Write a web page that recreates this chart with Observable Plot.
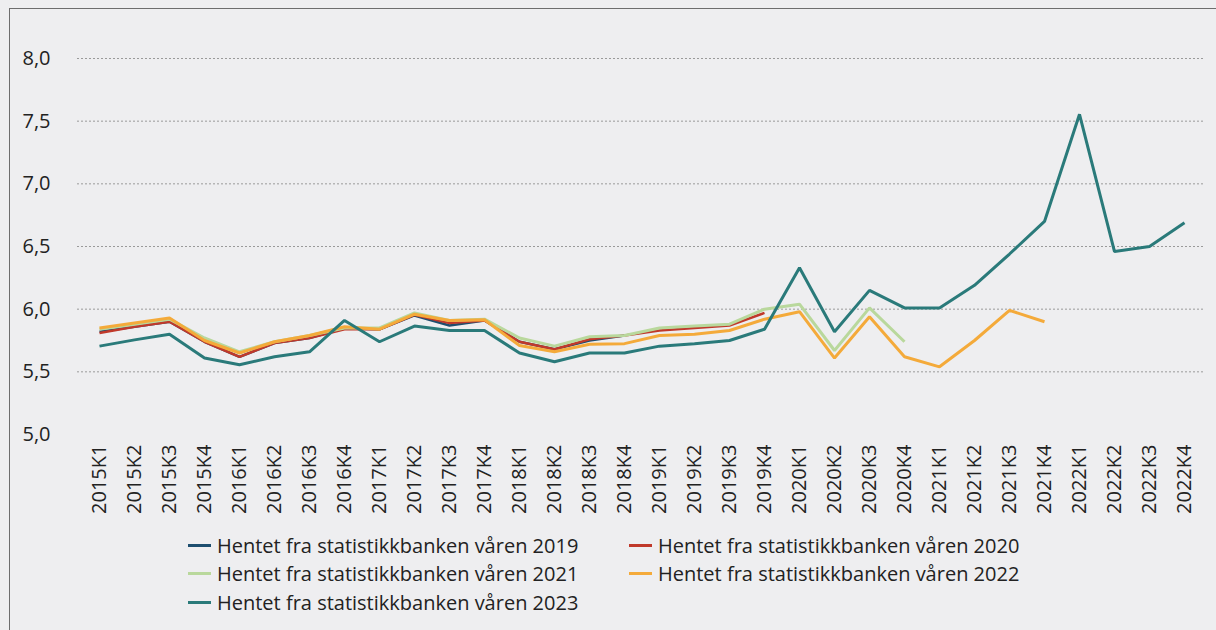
<!DOCTYPE html>
<html>
<head>
<meta charset="utf-8">
<script src="https://cdn.jsdelivr.net/npm/d3@7"></script>
<script src="https://cdn.jsdelivr.net/npm/@observablehq/plot@0.6"></script>
<style>
  html, body { margin: 0; padding: 0; background: #eeeef0; width: 1216px; height: 630px; overflow: hidden; font-family: "Open Sans", sans-serif; }
  #frame { position: absolute; left: 9px; top: 8px; width: 1300px; height: 700px; border-left: 1.5px solid #6d6d6d; border-top: 1.5px solid #6d6d6d; pointer-events: none; }
  #chart { position: absolute; left: 0; top: 0; }
  #legend { position: absolute; left: 188px; top: 531px; display: grid; grid-template-columns: 441px 420px; row-gap: 0; font-size: 20px; color: #222; }
  .item { display: flex; align-items: center; height: 28.5px; white-space: nowrap; }
  .sw { width: 23px; height: 3px; margin-right: 6px; }
</style>
</head>
<body>
<div id="chart"></div>
<div id="legend"></div>
<div id="frame"></div>
<script>
const quarters = ["2015K1","2015K2","2015K3","2015K4","2016K1","2016K2","2016K3","2016K4",
  "2017K1","2017K2","2017K3","2017K4","2018K1","2018K2","2018K3","2018K4",
  "2019K1","2019K2","2019K3","2019K4","2020K1","2020K2","2020K3","2020K4",
  "2021K1","2021K2","2021K3","2021K4","2022K1","2022K2","2022K3","2022K4"];

const seriesNames = [
  "Hentet fra statistikkbanken våren 2019",
  "Hentet fra statistikkbanken våren 2020",
  "Hentet fra statistikkbanken våren 2021",
  "Hentet fra statistikkbanken våren 2022",
  "Hentet fra statistikkbanken våren 2023"
];
const seriesColors = ["#1d4e6f", "#c0392b", "#b9d89c", "#f4aa3a", "#2a7a7a"];
const seriesWidths = [2.5, 2.5, 3, 3, 3];

const v2019 = [5.82, 5.86, 5.90, 5.74, 5.62, 5.73, 5.77, 5.85, 5.84, 5.95, 5.87, 5.91, 5.74, 5.68, 5.75, 5.79];
const v2020 = [5.81, 5.86, 5.90, 5.74, 5.62, 5.73, 5.77, 5.84, 5.84, 5.955, 5.89, 5.91, 5.74, 5.68, 5.76, 5.79,
  5.83, 5.85, 5.87, 5.97];
const v2021 = [5.84, 5.88, 5.92, 5.77, 5.66, 5.74, 5.79, 5.85, 5.85, 5.97, 5.91, 5.92, 5.77, 5.705, 5.78, 5.79,
  5.85, 5.865, 5.88, 6.00, 6.04, 5.67, 6.01, 5.74];
const v2022 = [5.85, 5.89, 5.93, 5.75, 5.65, 5.74, 5.79, 5.86, 5.84, 5.96, 5.91, 5.915, 5.71, 5.66, 5.72, 5.725,
  5.79, 5.80, 5.83, 5.92, 5.98, 5.61, 5.94, 5.62, 5.54, 5.75, 5.99, 5.90];
const v2023 = [5.705, 5.755, 5.80, 5.61, 5.556, 5.62, 5.66, 5.91, 5.74, 5.865, 5.83, 5.83, 5.65, 5.58, 5.65, 5.65,
  5.705, 5.725, 5.75, 5.84, 6.33, 5.82, 6.15, 6.01, 6.01, 6.19, 6.44, 6.70, 7.555, 6.46, 6.50, 6.69];

const yTicks = [5.0, 5.5, 6.0, 6.5, 7.0, 7.5, 8.0];
const allValues = [v2019, v2020, v2021, v2022, v2023];

const lineMarks = allValues.map((vals, i) =>
  Plot.line(vals.map((v, j) => ({q: quarters[j], v})), {
    x: "q", y: "v", stroke: seriesColors[i], strokeWidth: seriesWidths[i],
    strokeLinejoin: "miter", strokeLinecap: "butt"
  })
);

const chart = Plot.plot({
  width: 1216,
  height: 520,
  marginLeft: 77,
  marginRight: 11,
  marginTop: 58,
  marginBottom: 86,
  style: { background: "transparent", fontFamily: "Open Sans", fontSize: "20px", color: "#222" },
  x: { type: "point", domain: quarters, padding: 0.5, label: null },
  y: { domain: [5, 8], label: null },
  marks: [
    Plot.ruleY(yTicks.filter(d => d > 5), { stroke: "#9a9a9a", strokeWidth: 1, strokeDasharray: "2,2" }),
    Plot.ruleY([5], { stroke: "#b4b4b4", strokeWidth: 1.5, x1: quarters[0], x2: quarters[quarters.length - 1], insetLeft: -20, insetRight: -18 }),
    Plot.axisY(yTicks, { tickSize: 0, tickPadding: 27, tickFormat: d => d.toFixed(1).replace(".", ","), fontSize: 20, fill: "#222", label: null }),
    Plot.axisX({ tickRotate: -90, tickSize: 0, tickPadding: 10, fontSize: 20, fill: "#222", label: null }),
    ...lineMarks
  ]
});
document.getElementById("chart").appendChild(chart);

const legendOrder = [0, 1, 2, 3, 4];
const legend = document.getElementById("legend");
legendOrder.forEach(i => {
  const item = document.createElement("div");
  item.className = "item";
  const sw = document.createElement("span");
  sw.className = "sw";
  sw.style.background = seriesColors[i];
  const t = document.createElement("span");
  t.textContent = seriesNames[i];
  item.appendChild(sw);
  item.appendChild(t);
  legend.appendChild(item);
});
</script>
</body>
</html>
